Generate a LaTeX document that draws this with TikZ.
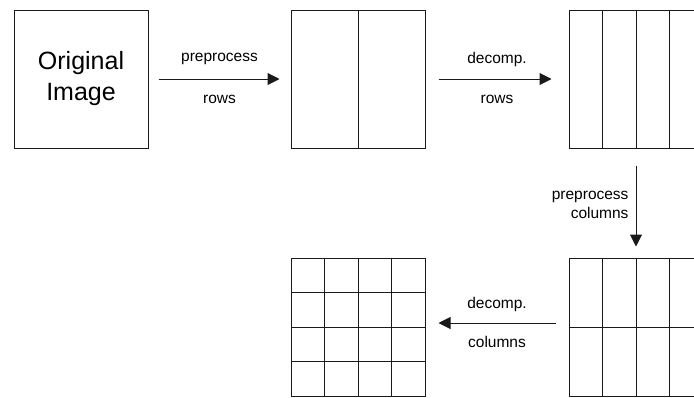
\documentclass[tikz,border=0pt]{standalone}
\usepackage{fontspec}
\setmainfont{Liberation Sans}
\usetikzlibrary{arrows.meta,calc}
\begin{document}
\begin{tikzpicture}[x=1pt,y=-1pt,
  img/.style={draw=black!90,line width=1pt,minimum width=134pt,minimum height=138pt,inner sep=0pt},
  divider/.style={draw=black!90,line width=1pt},
  flow/.style={draw=black!90,line width=1pt,-{Triangle[length=12pt,width=12pt]}},
  lbl/.style={font=\fontsize{15.5}{19}\selectfont,inner sep=1pt}]
\useasboundingbox (0,0) rectangle (694,397);
\clip (0,0) rectangle (694,397);
\node[img,font=\fontsize{25}{31}\selectfont,align=center] (b1) at (81,79) {Original\\Image};
\node[img] (b2) at (358,79) {};
\node[img] (b3) at (636,79) {};
\node[img] (b4) at (636,327) {};
\node[img] (b5) at (358,327) {};
% dividers
\draw[divider] (b2.north) -- (b2.south);
\foreach \f in {0.25,0.5,0.75}{
  \draw[divider] ($(b3.north west)!\f!(b3.north east)$) -- ($(b3.south west)!\f!(b3.south east)$);
  \draw[divider] ($(b4.north west)!\f!(b4.north east)$) -- ($(b4.south west)!\f!(b4.south east)$);
  \draw[divider] ($(b5.north west)!\f!(b5.north east)$) -- ($(b5.south west)!\f!(b5.south east)$);
  \draw[divider] ($(b5.north west)!\f!(b5.south west)$) -- ($(b5.north east)!\f!(b5.south east)$);
}
\draw[divider] (b4.west) -- (b4.east);
% arrows
\draw[flow,shorten <=10pt,shorten >=11pt] (b1.east) -- (b2.west)
  node[lbl,midway,yshift=20pt] {preprocess}
  node[lbl,midway,yshift=-20pt] {rows};
\draw[flow,shorten <=13pt,shorten >=17pt] (b2.east) -- (b3.west)
  node[lbl,midway,yshift=20pt] {decomp.}
  node[lbl,midway,yshift=-20pt] {rows};
\draw[flow,shorten <=17pt,shorten >=11pt] (b3.south) -- (b4.north)
  node[lbl,midway,anchor=east,xshift=-6pt,yshift=-2pt,align=right] {preprocess\\columns};
\draw[flow,shorten <=13pt,shorten >=13pt] ([yshift=4pt]b4.west) -- ([yshift=4pt]b5.east)
  node[lbl,midway,yshift=19pt] {decomp.}
  node[lbl,midway,yshift=-19pt] {columns};
\end{tikzpicture}
\end{document}
